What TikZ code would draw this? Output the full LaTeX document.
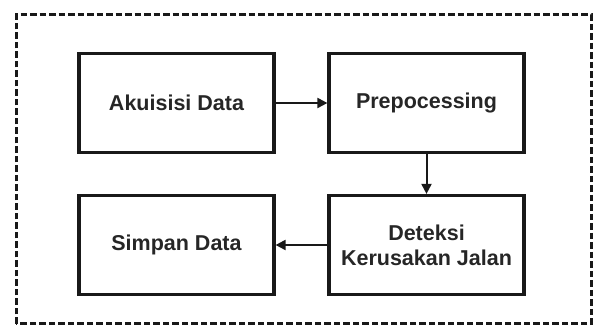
\documentclass[tikz,border=0pt]{standalone}
\usepackage{fontspec}
\setmainfont{Liberation Sans}
\usetikzlibrary{arrows.meta}
\begin{document}
\begin{tikzpicture}[x=1pt,y=1pt,
  stepbox/.style={draw=black!90, line width=3.2pt, minimum width=195pt, minimum height=99pt, inner sep=0pt, font=\bfseries\fontsize{21.5}{25}\selectfont, align=center, text=black!85},
  conn/.style={line width=2pt, draw=black!90, -{Triangle[length=10pt,width=10pt]}}]
\useasboundingbox (0,0) rectangle (595,329);
\draw[line width=3pt, dash pattern=on 6.5pt off 3pt, draw=black!90] (16,5) rectangle (591,314);
\node[stepbox] (a) at (176.5,226) {Akuisisi Data};
\node[stepbox] (b) at (426.5,226) {Prepocessing};
\node[stepbox] (c) at (426.5,84) {Deteksi\\Kerusakan Jalan};
\node[stepbox] (d) at (176.5,84) {Simpan Data};
\draw[conn] (a) -- (b);
\draw[conn] (b) -- (c);
\draw[conn] (c) -- (d);
\end{tikzpicture}
\end{document}
